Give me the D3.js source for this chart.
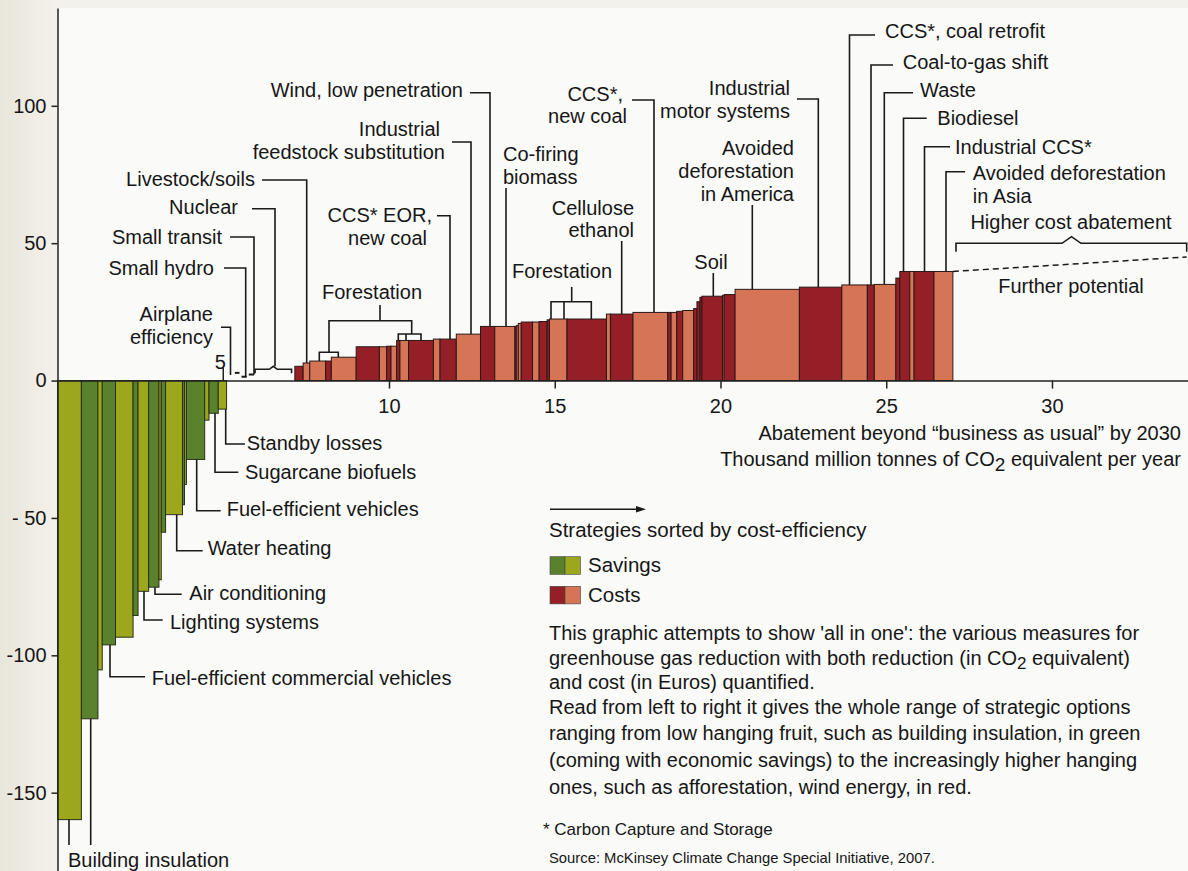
<!DOCTYPE html>
<html><head><meta charset="utf-8">
<script src="https://cdn.jsdelivr.net/npm/d3@7"></script>
<style>
html,body{margin:0;padding:0;background:#f0eee6;}
svg{display:block;}
text{font-family:"Liberation Sans",Arial,Helvetica,sans-serif;fill:#161616;}
</style></head><body><svg id="c" width="1188" height="871"></svg>
<script>
// ---------------- data ----------------
const xTicks = [10, 15, 20, 25, 30];
const yTicks = [100, 50, 0, -50, -100, -150];
const yTickLabels = ["100", "50", "0", "- 50", "-100", "-150"];

// savings measures (abatement width in Gt, cost in EUR/t)
const savingsW = [0.72,0.50,0.13,0.40,0.53,0.15,0.32,0.31,0.07,0.13,0.51,0.06,0.06,0.55,0.13,0.28,0.25];
const savingsV = [-159.8,-123.1,-105.3,-96.2,-93.4,-85.5,-76.7,-75.2,-72.5,-55.2,-48.8,-45.2,-37.8,-28.7,-14.4,-11.9,-10.4];
const savingsTone = ["light","dark","light","dark","light","dark","light","dark","light","dark","light","dark","light","dark","light","dark","light"];

// near-zero measures
const lowW = [0.22, 0.20, 0.22, 0.22, 1.10, 0.10];
const lowV = [0, 2.8, 1.4, 2.2, 4.1, 0];
const lowKind = ["gap", "dash", "dash", "dash", "brace", "gap"];

// cost measures
const costW = [0.25,0.20,0.48,0.17,0.75,0.70,0.22,0.13,0.17,0.10,0.26,0.75,0.20,0.49,0.73,0.43,0.61,0.04,0.06,0.09,0.34,0.20,0.24,0.07,0.53,1.19,0.12,0.68,1.05,0.10,0.17,0.18,0.33,0.10,0.09,0.06,0.62,0.05,0.33,1.94,1.28,0.77,0.21,0.65,0.12,0.30,0.13,0.60,0.57];
const costV = [5.2,6.4,7.1,7.1,8.5,12.3,12.3,12.5,12.5,14.6,14.6,14.6,15.1,15.1,16.9,19.7,19.7,19.7,20.0,20.8,21.3,21.3,21.5,22.1,22.4,22.4,24.2,24.2,24.8,24.8,24.8,25.2,25.5,26.2,28.7,30.3,30.7,31.0,31.3,33.2,34.0,34.8,34.8,35.0,37.3,39.7,39.7,39.7,39.7];
const costTone = ["dark","light","light","dark","light","dark","light","dark","light","dark","light","dark","light","dark","light","dark","light","dark","light","light","dark","light","dark","dark","light","dark","light","dark","light","dark","light","dark","light","dark","dark","dark","dark","light","dark","light","dark","light","dark","light","dark","dark","light","dark","light"];

const furtherPotentialEnd = 45.0; // cost at right edge of dashed line

const colors = {s:{light:"#9ca71c", dark:"#5a822d"}, c:{light:"#d67456", dark:"#951f26"}};

// ---------------- setup ----------------
const svg = d3.select("#c");
const W = 1188, H = 871;
const x = d3.scaleLinear().domain([0, 34.1]).range([57.5, 1187.9]);
const y = d3.scaleLinear().domain([-178.5, 135.6]).range([871, 8]);

const defs = svg.append("defs");
const gr = defs.append("linearGradient").attr("id","bg").attr("x1","0").attr("x2","1").attr("y1","0").attr("y2","0");
gr.append("stop").attr("offset","0").attr("stop-color","#e8e5da");
gr.append("stop").attr("offset","1").attr("stop-color","#f4f2ec");
svg.append("rect").attr("width",60).attr("height",H).attr("fill","url(#bg)");
svg.append("rect").attr("x",60).attr("width",W-60).attr("height",8).attr("fill","#f3f1eb");
svg.append("rect").attr("x",58).attr("y",8).attr("width",W-58).attr("height",H-8).attr("fill","#fafaf8");

// segments
let cum = 0; const segs = [];
savingsW.forEach((w,i)=>{ segs.push({x0:cum,x1:cum+w,v:savingsV[i],kind:"bar",tone:savingsTone[i],grp:"s"}); cum+=w; });
lowW.forEach((w,i)=>{ segs.push({x0:cum,x1:cum+w,v:lowV[i],kind:lowKind[i]}); cum+=w; });
costW.forEach((w,i)=>{ segs.push({x0:cum,x1:cum+w,v:costV[i],kind:"bar",tone:costTone[i],grp:"c"}); cum+=w; });
const endU = cum;
function valAt(px){ const u = x.invert(px); const s = segs.find(d=>u>=d.x0 && u<d.x1); return s ? s.v : 0; }

// bars
const bars = segs.filter(d=>d.kind==="bar");
svg.append("g").selectAll("rect").data(bars).join("rect")
  .attr("x", d=>x(d.x0))
  .attr("width", d=>x(d.x1)-x(d.x0))
  .attr("y", d=>Math.min(y(d.v), y(0)))
  .attr("height", d=>Math.abs(y(d.v)-y(0)))
  .attr("fill", d=>colors[d.grp][d.tone])
  .attr("stroke", d=>d.grp==="s" ? "#27301a" : "#2a1818")
  .attr("stroke-width", 1);

// near-zero dashes
const ink = "#1a1a1a";
svg.append("g").selectAll("line").data(segs.filter(d=>d.kind==="dash")).join("line")
  .attr("x1", d=>x(d.x0)+1).attr("x2", d=>x(d.x1)-1)
  .attr("y1", d=>y(d.v)).attr("y2", d=>y(d.v))
  .attr("stroke", ink).attr("stroke-width", 2);
// nuclear brace
segs.filter(d=>d.kind==="brace").forEach(d=>{
  const a = x(d.x0), b = x(d.x1), m = (a+b)/2, yy = y(d.v);
  svg.append("path").attr("d", `M${a},${yy+4} V${yy} H${m-4} L${m},${yy-3} L${m+4},${yy} H${b} V${yy+4}`)
    .attr("fill","none").attr("stroke",ink).attr("stroke-width",1.6);
});

// ---------------- axes ----------------
const fs = 20;
const yAxis = svg.append("g").attr("transform","translate(57.5,0)")
  .call(d3.axisLeft(y).tickValues(yTicks).tickFormat((d,i)=>yTickLabels[i]).tickSize(6).tickPadding(5).tickSizeOuter(0));
const xAxis = svg.append("g").attr("transform",`translate(0,${y(0)})`)
  .call(d3.axisBottom(x).tickValues(xTicks).tickSize(8).tickPadding(10).tickSizeOuter(0));
[yAxis, xAxis].forEach(a=>{
  a.select(".domain").attr("stroke","#222").attr("stroke-width",1.5);
  a.selectAll(".tick line").attr("stroke","#222").attr("stroke-width",1.5);
  a.selectAll(".tick text").attr("font-size",fs).attr("font-family","'Liberation Sans',Arial,sans-serif").attr("fill","#161616");
});
// tick at 5 (above axis)
svg.append("line").attr("x1",x(5)).attr("x2",x(5)).attr("y1",y(0)-13).attr("y2",y(0)).attr("stroke","#222").attr("stroke-width",1.5);
svg.append("text").attr("x",x(5)-3).attr("y",362).attr("dy","0.35em").attr("text-anchor","middle").attr("font-size",fs).text("5");

// ---------------- annotations ----------------
const A = svg.append("g");
function txt(tx, ty, s, anchor="start", size=fs){
  return A.append("text").attr("x",tx).attr("y",ty).attr("dy","0.35em").attr("text-anchor",anchor).attr("font-size",size).text(s);
}
function pth(d, w=1.6){ A.append("path").attr("d",d).attr("fill","none").attr("stroke",ink).attr("stroke-width",w); }
function topLeader(hx0, hy, vx, yEnd){
  const ye = (yEnd===undefined) ? y(valAt(vx)) : yEnd;
  pth(`M${hx0},${hy} H${vx} V${ye}`);
}
function botLeader(vx, hy, hx1, yStart){
  const ys = (yStart===undefined) ? y(valAt(vx)) : yStart;
  pth(`M${vx},${ys} V${hy} H${hx1}`);
}

// left / middle upper labels
txt(463, 90, "Wind, low penetration", "end"); topLeader(470, 92.7, 490);
txt(440, 129, "Industrial", "end"); txt(445, 152, "feedstock substitution", "end"); topLeader(452, 142, 471);
txt(255, 179, "Livestock/soils", "end"); topLeader(262, 180, 306.7);
txt(238, 207, "Nuclear", "end"); topLeader(252, 208.7, 275, y(4.1)-3);
txt(222, 237, "Small transit", "end"); topLeader(230, 237, 254, y(2.2));
txt(214, 268, "Small hydro", "end"); topLeader(224, 268, 245.7, y(1.4));
txt(213, 314, "Airplane", "end"); txt(213, 337, "efficiency", "end"); topLeader(221, 327.3, 230.5, 375);
txt(432, 215, "CCS* EOR,", "end"); txt(427, 238, "new coal", "end"); topLeader(437, 215.7, 450);
txt(503, 154, "Co-firing"); txt(503, 177, "biomass"); topLeader(506, 188, 506);
txt(623, 94, "CCS*,", "end"); txt(627, 116, "new coal", "end"); topLeader(632, 100, 654);
txt(634, 208, "Cellulose", "end"); txt(634, 230, "ethanol", "end"); topLeader(621.7, 241, 621.7);
txt(790, 88, "Industrial", "end"); txt(790, 111, "motor systems", "end"); topLeader(797, 99, 818.3);
txt(794, 148, "Avoided", "end"); txt(794, 171, "deforestation", "end"); txt(794, 194, "in America", "end"); topLeader(752.3, 205, 752.3);
txt(711, 262, "Soil", "middle"); topLeader(713.3, 273, 713.3);

// Forestation brackets
txt(372, 292, "Forestation", "middle");
pth(`M380,305 V320.7 M329,352.3 V320.7 H411.7 V334`);
pth(`M319.3,${y(valAt(321))} V352.3 H338.3 V${y(valAt(336))}`);
pth(`M398.3,${y(valAt(399))} V334 H421 V${y(valAt(420))} M406,334 V${y(valAt(406))}`);
txt(562, 271, "Forestation", "middle");
pth(`M571.7,287 V301.7`);
pth(`M551,${y(valAt(552))} V301.7 H591.3 V${y(valAt(590))} M564,301.7 V${y(valAt(564))}`);

// right labels
txt(885, 31, "CCS*, coal retrofit"); topLeader(875, 35, 849.5);
txt(902.7, 61.7, "Coal-to-gas shift"); topLeader(893, 65, 871);
txt(920, 90, "Waste"); topLeader(913, 92.7, 884.3);
txt(937.3, 118, "Biodiesel"); topLeader(926.7, 118.3, 903.5);
txt(955, 146.7, "Industrial CCS*"); topLeader(950, 146.7, 924.5);
txt(972.7, 173.3, "Avoided deforestation"); txt(972.7, 195.5, "in Asia"); topLeader(965, 171.7, 946);

// higher cost abatement
txt(1071, 222, "Higher cost abatement", "middle");
pth(`M956,251.7 V243.3 H1062 L1071.5,236.7 L1081,243.3 H1186.7 V251.7`);
A.append("line").attr("x1", x(endU)).attr("y1", y(costV[costV.length-1]))
  .attr("x2", 1186.7).attr("y2", y(furtherPotentialEnd))
  .attr("stroke", ink).attr("stroke-width", 1.5).attr("stroke-dasharray", "6,4");
txt(1071, 286, "Further potential", "middle");

// savings labels
txt(246.7, 442.7, "Standby losses"); botLeader(225.7, 444, 245);
txt(245, 471.7, "Sugarcane biofuels"); botLeader(215, 472.3, 238.3);
txt(226.7, 509.3, "Fuel-efficient vehicles"); botLeader(196.7, 510.7, 220.7);
txt(207.7, 548.3, "Water heating"); botLeader(176.7, 550.7, 202.7);
txt(189.3, 592.7, "Air conditioning"); botLeader(155, 594.3, 181.7);
txt(170, 621.7, "Lighting systems"); botLeader(144, 620, 162.7);
txt(151.7, 677.7, "Fuel-efficient commercial vehicles"); botLeader(110, 676.7, 145);
txt(68, 860, "Building insulation");
pth(`M69,${y(valAt(69))} V845 M90.7,${y(valAt(90.7))} V845`);

// x axis title
txt(1181, 433, "Abatement beyond \u201cbusiness as usual\u201d by 2030", "end");
const t2 = A.append("text").attr("x",1181).attr("y",459).attr("dy","0.35em").attr("text-anchor","end").attr("font-size",fs);
t2.append("tspan").text("Thousand million tonnes of CO");
t2.append("tspan").attr("dy",5).attr("font-size",19).text("2");
t2.append("tspan").attr("dy",-5).text(" equivalent per year");

// legend
pth(`M550,509.3 H638`, 1.4);
A.append("path").attr("d","M646,509.3 L636,506 L636,512.6 Z").attr("fill",ink);
txt(549, 530, "Strategies sorted by cost-efficiency", "start", 20.5);
const sw = [[colors.s.dark, colors.s.light, 556.7, "Savings", 565], [colors.c.dark, colors.c.light, 586.3, "Costs", 595]];
sw.forEach(([c1,c2,yy,label,ly])=>{
  A.append("rect").attr("x",550).attr("y",yy).attr("width",15).attr("height",17.6).attr("fill",c1).attr("stroke","#444").attr("stroke-width",0.6);
  A.append("rect").attr("x",565).attr("y",yy).attr("width",15.5).attr("height",17.6).attr("fill",c2).attr("stroke","#444").attr("stroke-width",0.6);
  txt(588, ly, label, "start", 20.5);
});

// paragraph
const para = [
  ["This graphic attempts to show 'all in one': the various measures for"],
  ["greenhouse gas reduction with both reduction (in CO", "2", " equivalent)"],
  ["and cost (in Euros) quantified."],
  ["Read from left to right it gives the whole range of strategic options"],
  ["ranging from low hanging fruit, such as building insulation, in green"],
  ["(coming with economic savings) to the increasingly higher hanging"],
  ["ones, such as afforestation, wind energy, in red."]
];
const paraY = [633, 658, 682, 707, 733, 760, 787];
para.forEach((p,i)=>{
  const t = A.append("text").attr("x",549).attr("y",paraY[i]).attr("dy","0.35em").attr("font-size",fs);
  t.append("tspan").text(p[0]);
  if (p.length>1){ t.append("tspan").attr("dy",4).attr("font-size",17).text(p[1]); t.append("tspan").attr("dy",-4).text(p[2]); }
});
txt(543, 829, "* Carbon Capture and Storage", "start", 17);
txt(549, 858, "Source: McKinsey Climate Change Special Initiative, 2007.", "start", 14.8);
</script>
</body></html>
